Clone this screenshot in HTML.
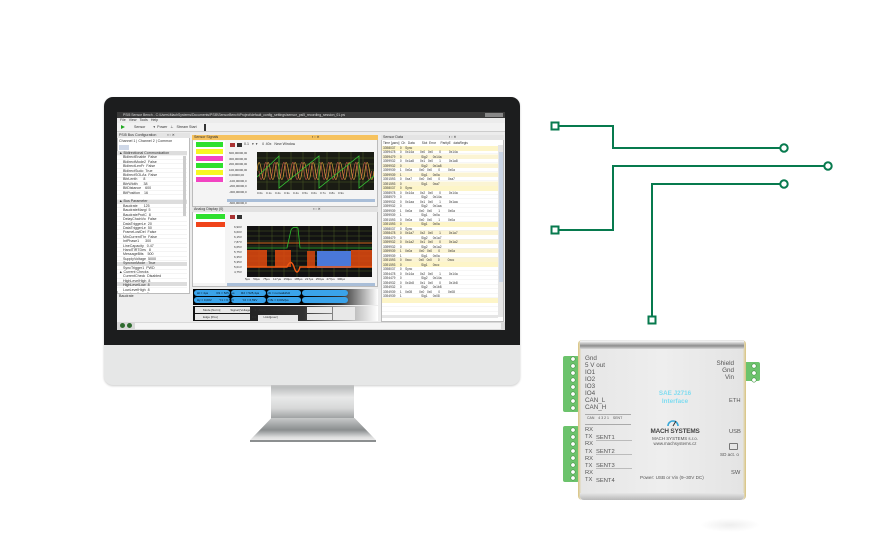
<!DOCTYPE html>
<html><head><meta charset="utf-8">
<style>
*{margin:0;padding:0;box-sizing:border-box}
body{width:880px;height:540px;background:#fff;position:relative;overflow:hidden;font-family:"Liberation Sans",sans-serif}
.a{position:absolute}
.t{font-size:3.6px;line-height:4.6px;color:#333;white-space:pre;overflow:hidden}
</style></head><body>

<!-- monitor stand -->
<div class="a" style="left:271px;top:383px;width:83px;height:36px;background:linear-gradient(#a9abac,#e8e9e9 40%,#d7d8d8 70%,#9a9d9e)"></div>
<div class="a" style="left:250px;top:418px;width:126px;height:24px;clip-path:polygon(17% 0,83% 0,100% 92%,0 92%);background:linear-gradient(#c8caca,#8a8e8f 50%,#dcdddd 80%,#f4f4f4)"></div>
<div class="a" style="left:250px;top:440px;width:126px;height:2px;background:#8c8f90"></div>
<!-- monitor -->
<div class="a" style="left:104px;top:97px;width:416px;height:288px;border-radius:9px;background:#e6e7e7;box-shadow:0 1px 2px #ccc"></div>
<div class="a" style="left:104px;top:97px;width:416px;height:248px;border-radius:9px 9px 0 0;background:#1c1d1e"></div>

<!-- screen -->
<div class="a" style="left:117px;top:112px;width:388px;height:218px;background:#ececec;overflow:hidden">
  <div class="a" style="left:0;top:0;width:388px;height:6px;background:#3a3a3a"></div>
  <div class="a t" style="left:6px;top:0;color:#ddd;font-size:3.4px;line-height:6px">PSI5 Sensor Bench - C:\Users\MachSystems\Documents\PSI5\SensorBench\Project\default_config_settings\sensor_psi5_recording_session_01.psi</div>
  <div class="a" style="left:368px;top:1px;width:18px;height:4px;background:#888"></div>
  <div class="a t" style="left:3px;top:6px;line-height:5px">File   View   Tools   Help</div>
  <div class="a" style="left:0;top:11px;width:388px;height:9px;background:#f2f2f2;border-bottom:1px solid #ccc"></div>
  <div class="a" style="left:4px;top:13px;width:0;height:0;border-left:4px solid #2a2;border-top:2.5px solid transparent;border-bottom:2.5px solid transparent"></div>
  <div class="a t" style="left:14px;top:13px">   Sensor        ▾  Power   ⊥   Stream Start</div>
  <div class="a" style="left:87px;top:12px;width:2px;height:7px;background:#333"></div>

  <!-- left panel -->
  <div class="a" style="left:0;top:21px;width:73px;height:189px;background:#fff;border:1px solid #bbb"></div>
  <div class="a" style="left:0;top:21px;width:73px;height:5px;background:#e4e4e4"></div>
  <div class="a t" style="left:2px;top:21px">PSI5 Bus Configuration           ▪ ▫ ✕</div>
  <div class="a t" style="left:2px;top:27px">Channel 1 | Channel 2 | Common</div>
  <div class="a" style="left:2px;top:33px;width:10px;height:5px;background:#cfd8e8"></div>
  <div class="a" style="left:0;top:39px;width:70px;height:140px;background:repeating-linear-gradient(#fff 0 3.9px,#e8e8e8 3.9px 4.4px)"></div>
  <div class="a" style="left:0;top:39px;width:70px;height:4px;background:#ddd"></div>
  <div class="a" style="left:0;top:88px;width:70px;height:4px;background:#ddd"></div>
  <div class="a" style="left:0;top:150px;width:70px;height:4px;background:#ddd"></div>
  <div class="a" style="left:0;top:170px;width:70px;height:4px;background:#ddd"></div>
  <div class="a t" style="left:2px;top:39px;line-height:4.4px">▲ Bidirectional Communication
    BidirectEnable  False
    BidirectMode2  False
    BidirectLenFr  False
    BidirectSudo  True
    BidirectSOLAs  False
    BitrLenth      8
    BitrWidth      38
    BitDistance    600
    BitPosition    16
    
▲ Bus Parameter
    Baudrate      125
    BaudrateMargi  5
    BaudrateProtC  8
    DelayChainVo  False
    DataTriggerLe  20
    DataTriggerLe  50
    FrameLostDel  False
    MinCurrentThr  False
    IntPhase1      300
    LineCapacity   0.47
    HandTIRTDes   8
    MessageBits    500
    SupplyVoltage  5000
    SyncronMode   True
    SyncTrigger1  PWD
▲ Current Checks
    CurrentCheck  Disabled
    HighLevelHigh  8
    HighLevelLow  8
    LowLevelHigh  8
    LowLevelLow  8
▲ Extended Bus Parameter
    BitExtension   False</div>
  <div class="a" style="left:66px;top:44px;width:3px;height:60px;background:#ccc"></div>
  <div class="a" style="left:0;top:181px;width:73px;height:29px;background:#eee;border-top:1px solid #bbb"></div>
  <div class="a t" style="left:2px;top:182px">Baudrate</div>

  <!-- sensor signals -->
  <div class="a" style="left:75px;top:23px;width:186px;height:72px;background:#f4f4f4;border:1px solid #bbb"></div>
  <div class="a" style="left:75px;top:23px;width:186px;height:5px;background:#f6c25e"></div>
  <div class="a t" style="left:77px;top:23px">Sensor Signals                                                                                              ▪ ▫ ✕</div>
  <div class="a" style="left:76px;top:29px;width:32px;height:41px;background:#fff"></div>
  <div class="a" style="left:79px;top:30px;width:27px;height:5px;background:#2ee02e"></div>
  <div class="a" style="left:79px;top:37px;width:27px;height:5px;background:#f7f722"></div>
  <div class="a" style="left:79px;top:44px;width:27px;height:5px;background:#f244c2"></div>
  <div class="a" style="left:79px;top:51px;width:27px;height:5px;background:#2ee02e"></div>
  <div class="a" style="left:79px;top:58px;width:27px;height:5px;background:#f7f722"></div>
  <div class="a" style="left:79px;top:65px;width:27px;height:5px;background:#f244c2"></div>
  <div class="a" style="left:113px;top:31px;width:5px;height:4px;background:#a33"></div>
  <div class="a" style="left:120px;top:31px;width:5px;height:4px;background:#333"></div>
  <div class="a t" style="left:127px;top:30px">0.1   ▾  ▾    ⇕ 40x   New Window</div>
  <div class="a t" style="left:112px;top:39px;font-size:3px;line-height:5.5px">600,00000,00
300,00000,00
200,00000,00
100,00000,00
0,00000,00
-100,00000,0
-200,00000,0
-300,00000,0

-600,00000,0</div>
  <svg class="a" style="left:140px;top:40px" width="117" height="38" viewBox="0 0 117 38">
    <rect width="117" height="38" fill="#1a1c14"/>
    <g stroke="#4b5a25" stroke-width=".5">
      <path d="M0 6H117M0 12H117M0 18H117M0 24H117M0 30H117M10 0V38M22 0V38M34 0V38M46 0V38M58 0V38M70 0V38M82 0V38M94 0V38M106 0V38"/>
    </g>
    <path d="M0 19 Q2 2 4.5 19 T9 19 T13.5 19 T18 19 T22.5 19 T27 19 T31.5 19 T36 19 T40.5 19 T45 19 T49.5 19 T54 19 T58.5 19 T63 19 T67.5 19 T72 19 T76.5 19 T81 19 T85.5 19 T90 19 T94.5 19 T99 19 T103.5 19 T108 19 T112.5 19 T117 19" fill="none" stroke="#d39a3a" stroke-width=".8"/>
    <path d="M2 19 Q4 36 6.5 19 T11 19 T15.5 19 T20 19 T24.5 19 T29 19 T33.5 19 T38 19 T42.5 19 T47 19 T51.5 19 T56 19 T60.5 19 T65 19 T69.5 19 T74 19 T78.5 19 T83 19 T87.5 19 T92 19 T96.5 19 T101 19 T105.5 19 T110 19 T114.5 19" fill="none" stroke="#c85a4a" stroke-width=".7"/>
    <path d="M0 25L22 4V36L62 4V36L102 4V36L117 24" fill="none" stroke="#36c436" stroke-width=".8"/>
  </svg>
  <div class="a t" style="left:140px;top:79px;font-size:3px">0.0s    0.1s    0.2s    0.3s    0.4s    0.5s    0.6s    0.7s    0.8s    0.9s</div>
  <div class="a" style="left:110px;top:87px;width:148px;height:3px;background:#a9bed8"></div>

  <!-- analog display -->
  <div class="a" style="left:75px;top:95px;width:186px;height:80px;background:#f4f4f4;border:1px solid #bbb"></div>
  <div class="a" style="left:75px;top:95px;width:186px;height:5px;background:#e2e2e2"></div>
  <div class="a t" style="left:77px;top:95px">Analog Display (0)                                                                                          ▪ ▫ ✕</div>
  <div class="a" style="left:76px;top:101px;width:32px;height:70px;background:#fff"></div>
  <div class="a" style="left:79px;top:102px;width:29px;height:5px;background:#2ee02e"></div>
  <div class="a" style="left:79px;top:110px;width:29px;height:5px;background:#f0441a"></div>
  <div class="a" style="left:113px;top:103px;width:5px;height:4px;background:#a33"></div>
  <div class="a" style="left:120px;top:103px;width:5px;height:4px;background:#333"></div>
  <div class="a t" style="left:117px;top:113px;font-size:3px;line-height:5px">6,90V
6,60V
6,15V
7,87V
6,65V
5,75V
6,35V
5,35V
5,01V
4,75V</div>
  <svg class="a" style="left:130px;top:114px" width="125" height="51" viewBox="0 0 125 51">
    <rect width="125" height="51" fill="#121212"/>
    <g stroke="#4b5a25" stroke-width=".5"><path d="M0 5H125M0 10H125M0 15H125M0 20H125M0 25H125M0 30H125M0 35H125M0 40H125M0 45H125M12 0V51M25 0V51M37 0V51M50 0V51M62 0V51M75 0V51M87 0V51M100 0V51M112 0V51"/></g>
    <path d="M0 17H125" stroke="#d0651a" stroke-width="1"/>
    <rect x="0" y="24" width="20" height="17" fill="#e34a0f" opacity=".85"/>
    <rect x="28" y="24" width="16" height="17" fill="#e34a0f" opacity=".85"/>
    <rect x="60" y="25" width="8" height="17" fill="#e34a0f" opacity=".8"/>
    <rect x="70" y="25" width="34" height="17" fill="#4a78d8"/>
    <rect x="104" y="24" width="21" height="17" fill="#e34a0f" opacity=".85"/>
    <path d="M0 41H40Q44 32 47 41Q50 51 53 41H125" stroke="#f05a14" stroke-width="1.4" fill="none"/>
    <path d="M0 22H40L44 4Q46 0 51 2L53 22H125" stroke="#2ebd2e" stroke-width=".8" fill="none"/>
  </svg>
  <div class="a t" style="left:128px;top:165px;font-size:3px">5µs    50µs    75µs    117µs   150µs   185µs   217µs   250µs   277µs   300µs</div>
  <div class="a" style="left:110px;top:171px;width:148px;height:3px;background:#a9bed8"></div>

  <!-- cursor strip -->
  <div class="a" style="left:76px;top:177px;width:185px;height:16px;background:linear-gradient(90deg,#000 60%,#333 80%,#fff)"></div>
  <div class="a" style="left:77px;top:178px;width:36px;height:6px;border-radius:3px;background:#3aa3ea"></div>
  <div class="a" style="left:77px;top:185px;width:36px;height:6px;border-radius:3px;background:#3aa3ea"></div>
  <div class="a" style="left:114px;top:178px;width:35px;height:6px;border-radius:3px;background:#3aa3ea"></div>
  <div class="a" style="left:114px;top:185px;width:35px;height:6px;border-radius:3px;background:#3aa3ea"></div>
  <div class="a" style="left:150px;top:178px;width:34px;height:6px;border-radius:3px;background:#3aa3ea"></div>
  <div class="a" style="left:150px;top:185px;width:34px;height:6px;border-radius:3px;background:#3aa3ea"></div>
  <div class="a" style="left:185px;top:178px;width:46px;height:6px;border-radius:3px;background:#3aa3ea"></div>
  <div class="a" style="left:185px;top:185px;width:46px;height:6px;border-radius:3px;background:#3aa3ea"></div>
  <div class="a t" style="left:80px;top:178px;font-size:3px;line-height:7px;color:#012">Δt = 4µs          R1 = 525,4µs        R2 = 525,4µs        1/Δt = nonvalid/Hz
Δy = 0,00V         Y1 = 6,59V          Y2 = 6,59V          ΔY/Δt = 0,00V/µs</div>

  <!-- bottom controls -->
  <div class="a" style="left:76px;top:194px;width:185px;height:15px;background:linear-gradient(90deg,#111,#333 60%,#fff)"></div>
  <div class="a" style="left:78px;top:195px;width:55px;height:6px;background:#e8e8e8"></div>
  <div class="a" style="left:78px;top:202px;width:55px;height:6px;background:#e8e8e8"></div>
  <div class="a" style="left:141px;top:203px;width:40px;height:6px;background:#e8e8e8"></div>
  <div class="a" style="left:190px;top:195px;width:25px;height:6px;background:#e8e8e8"></div>
  <div class="a" style="left:190px;top:202px;width:25px;height:6px;background:#e8e8e8"></div>
  <div class="a" style="left:216px;top:195px;width:22px;height:13px;background:#e8e8e8"></div>
  <div class="a t" style="left:86px;top:195px;font-size:3px;line-height:7px">Mode [Norm]            Signal [Voltage]    ▾   Δt[µs]      Offset[µsec]
Edge [Pos]                                         0.0         Hold[µsec]</div>

  <!-- sensor data -->
  <div class="a" style="left:264px;top:23px;width:123px;height:187px;background:#fff;border:1px solid #bbb"></div>
  <div class="a" style="left:264px;top:23px;width:123px;height:5px;background:#e4e4e4"></div>
  <div class="a t" style="left:266px;top:23px">Sensor Data                                              ▪ ▫ ✕</div>
  <div class="a" style="left:265px;top:33px;width:116px;height:170px;background:repeating-linear-gradient(#fff 0 4.1px,#eee 4.1px 4.5px)"></div>
  <div class="a" style="left:265px;top:34px;width:116px;height:4.5px;background:#fdf5c8"></div>
  <div class="a" style="left:265px;top:74px;width:116px;height:4.5px;background:#fdf5c8"></div>
  <div class="a" style="left:265px;top:110px;width:116px;height:4.5px;background:#fdf5c8"></div>
  <div class="a" style="left:265px;top:150px;width:116px;height:4.5px;background:#fdf5c8"></div>
  <div class="a" style="left:265px;top:186px;width:116px;height:4.5px;background:#fdf5c8"></div>
  <div class="a" style="left:265px;top:38px;width:116px;height:36px;background:repeating-linear-gradient(transparent 0 4.5px,#fbf4d4 4.5px 9px)"></div>
  <div class="a" style="left:265px;top:114px;width:116px;height:36px;background:repeating-linear-gradient(transparent 0 4.5px,#fbf4d4 4.5px 9px)"></div>
  <div class="a t" style="left:266px;top:29px;line-height:4.5px;font-size:3.2px">Time [µsec]  Ch   Data        Slot  Error     ParityE   dataRegis
3398037     0    Sync
3399478     0    0x14a       0x0   0x0       0         0x14a
3399479     0                      Sig2      0x14a
3399932     0    0x1a8       0x1   0x0       1         0x1a8
3399932     0                      Sig2      0x1a8
3399939     1    0x0a        0x0   0x0       0         0x0a
3399939     1                      Sig1      0x0a
3391593     0    0xa7        0x0   0x0       0         0xa7
3391593     0                      Sig1      0xa7
3398037     0    Sync
3398978     0    0x14a       0x2   0x0       0         0x14a
3398979     0                      Sig2      0x14a
3399932     0    0x1aa       0x1   0x0       1         0x1aa
3399932     0                      Sig2      0x1aa
3399939     1    0x0a        0x0   0x0       1         0x0a
3399939     1                      Sig1      0x0a
3391593     0    0x0a        0x0   0x0       1         0x0a
3391593     0                      Sig1      0x0a
3398037     0    Sync
3398478     0    0x1a7       0x2   0x0       1         0x1a7
3398479     0                      Sig2      0x1a7
3399932     0    0x1a2       0x1   0x0       0         0x1a2
3399932     0                      Sig2      0x1a2
3399939     1    0x0a        0x0   0x0       0         0x0a
3399939     1                      Sig1      0x0a
3391593     0    0xcc        0x0   0x0       0         0xcc
3391593     0                      Sig1      0xcc
3398037     0    Sync
3394478     0    0x14a       0x2   0x0       1         0x14a
3394479     0                      Sig2      0x14a
3394932     0    0x1b8       0x1   0x0       0         0x1b8
3394932     0                      Sig2      0x1b8
3394939     1    0x08        0x0   0x0       0         0x08
3394939     1                      Sig1      0x08</div>
  <div class="a" style="left:381px;top:33px;width:5px;height:172px;background:#e6e6e6"></div>
  <div class="a" style="left:381.5px;top:40px;width:4px;height:130px;background:#c9d5e6"></div>
  <div class="a" style="left:265px;top:203px;width:116px;height:3px;background:#e6e6e6"></div>

  <!-- status -->
  <div class="a" style="left:0;top:210px;width:388px;height:8px;background:#d8d8d8"></div>
  <div class="a" style="left:3px;top:211px;width:5px;height:5px;border-radius:50%;background:#2e6b2e"></div>
  <div class="a" style="left:10px;top:211px;width:5px;height:5px;border-radius:50%;background:#2e6b2e"></div>
  <div class="a" style="left:18px;top:211px;width:366px;height:6px;background:#f4f4f4"></div>
</div>

<!-- connectors -->
<svg class="a" style="left:0;top:0" width="880" height="540">
  <g fill="none" stroke="#077a4e" stroke-width="2">
    <path d="M559 126H613V148H780"/>
    <path d="M559 230H613V166H824"/>
    <path d="M652 316V184H780"/>
    <rect x="551.5" y="122.5" width="7" height="7" fill="#fff"/>
    <rect x="551.5" y="226.5" width="7" height="7" fill="#fff"/>
    <rect x="648.5" y="316.5" width="7" height="7" fill="#fff"/>
    <circle cx="784" cy="148" r="3.7" fill="#fff"/>
    <circle cx="828" cy="166" r="3.7" fill="#fff"/>
    <circle cx="784" cy="184" r="3.7" fill="#fff"/>
  </g>
</svg>

<!-- device -->
<div class="a" style="left:700px;top:518px;width:60px;height:14px;border-radius:50%;background:radial-gradient(#eee,#fff 70%)"></div>
<div class="a" style="left:563px;top:356px;width:16px;height:56px;background:#6cc36c;border-radius:2px"></div>
<div class="a" style="left:563px;top:426px;width:16px;height:56px;background:#6cc36c;border-radius:2px"></div>
<div class="a" style="left:744px;top:362px;width:16px;height:19px;background:#6cc36c;border-radius:2px"></div>
<svg class="a" style="left:563px;top:356px" width="200" height="130">
  <g fill="#fff" stroke="#3f8f3f" stroke-width=".6">
    <circle cx="10" cy="3" r="2.2"/><circle cx="10" cy="10" r="2.2"/><circle cx="10" cy="17" r="2.2"/><circle cx="10" cy="24" r="2.2"/><circle cx="10" cy="31" r="2.2"/><circle cx="10" cy="38" r="2.2"/><circle cx="10" cy="45" r="2.2"/><circle cx="10" cy="52" r="2.2"/>
    <circle cx="10" cy="74" r="2.2"/><circle cx="10" cy="81" r="2.2"/><circle cx="10" cy="88" r="2.2"/><circle cx="10" cy="95" r="2.2"/><circle cx="10" cy="102" r="2.2"/><circle cx="10" cy="109" r="2.2"/><circle cx="10" cy="116" r="2.2"/><circle cx="10" cy="122" r="2.2"/>
    <circle cx="191" cy="10" r="2.2"/><circle cx="191" cy="17" r="2.2"/><circle cx="191" cy="24" r="2.2"/>
  </g>
</svg>
<div class="a" style="left:578px;top:340px;width:168px;height:160px;border-radius:4px;background:linear-gradient(90deg,#d9c37d 0,#e6e6e6 2%,#eeeeee 50%,#e4e4e4 98%,#d9c37d 100%)"></div>
<div class="a" style="left:580px;top:341px;width:164px;height:8px;background:linear-gradient(#fafafa,#8e8e8e 60%,#d9d9d9)"></div>
<div class="a" style="left:580px;top:493px;width:164px;height:7px;background:linear-gradient(#e6e6e6,#b8b8b8);border-radius:0 0 4px 4px"></div>
<div class="a" style="left:585px;top:355px;font-size:6.3px;line-height:7px;color:#555">Gnd<br>5 V out<br>IO1<br>IO2<br>IO3<br>IO4<br>CAN_L<br>CAN_H</div>
<div class="a" style="left:585px;top:414px;width:46px;height:1px;background:#aaa"></div>
<div class="a" style="left:585px;top:424px;width:46px;height:1px;background:#aaa"></div>
<div class="a" style="left:587px;top:416px;font-size:3.5px;color:#555;white-space:pre">CAN    4 3 2 1    SENT</div>
<div class="a" style="left:585px;top:427px;font-size:5.8px;line-height:7.2px;color:#555">RX<br>TX<br>RX<br>TX<br>RX<br>TX<br>RX<br>TX</div>
<div class="a" style="left:596px;top:431px;font-size:5.8px;line-height:14.2px;color:#555">SENT1<br>SENT2<br>SENT3<br>SENT4</div>
<div class="a" style="left:596px;top:440px;width:36px;height:1px;background:#bbb"></div>
<div class="a" style="left:596px;top:454px;width:36px;height:1px;background:#bbb"></div>
<div class="a" style="left:596px;top:468px;width:36px;height:1px;background:#bbb"></div>
<div class="a" style="left:690px;top:360px;width:44px;font-size:6.3px;line-height:7px;color:#555;text-align:right">Shield<br>Gnd<br>Vin</div>
<div class="a" style="left:640px;top:390px;width:70px;font-size:6.3px;line-height:8px;color:#7fdcf0;font-weight:bold;text-align:center">SAE J2716<br>Interface</div>
<div class="a" style="left:729px;top:398px;font-size:5.8px;color:#555">ETH</div>
<svg class="a" style="left:666px;top:418px" width="14" height="9"><path d="M2 8A5 5 0 0 1 12 8" fill="none" stroke="#38a8d8" stroke-width="1.6"/><path d="M7 8L10 3" stroke="#333" stroke-width="1"/></svg>
<div class="a" style="left:640px;top:428px;width:70px;text-align:center;font-size:6.4px;font-weight:bold;color:#444;letter-spacing:-.2px">MACH SYSTEMS</div>
<div class="a" style="left:640px;top:436px;width:70px;text-align:center;font-size:4.4px;line-height:5px;color:#555">MACH SYSTEMS s.r.o.<br>www.machsystems.cz</div>
<div class="a" style="left:729px;top:429px;font-size:5.8px;color:#555">USB</div>
<div class="a" style="left:729px;top:443px;width:9px;height:7px;border:1px solid #777;border-radius:1px"></div>
<div class="a" style="left:720px;top:452px;font-size:4.6px;color:#555">SD act. o</div>
<div class="a" style="left:731px;top:470px;font-size:5.8px;color:#555">SW</div>
<div class="a" style="left:640px;top:475px;width:90px;font-size:4.6px;color:#555;white-space:nowrap">Power: USB or Vin (9–30V DC)</div>
</body></html>
